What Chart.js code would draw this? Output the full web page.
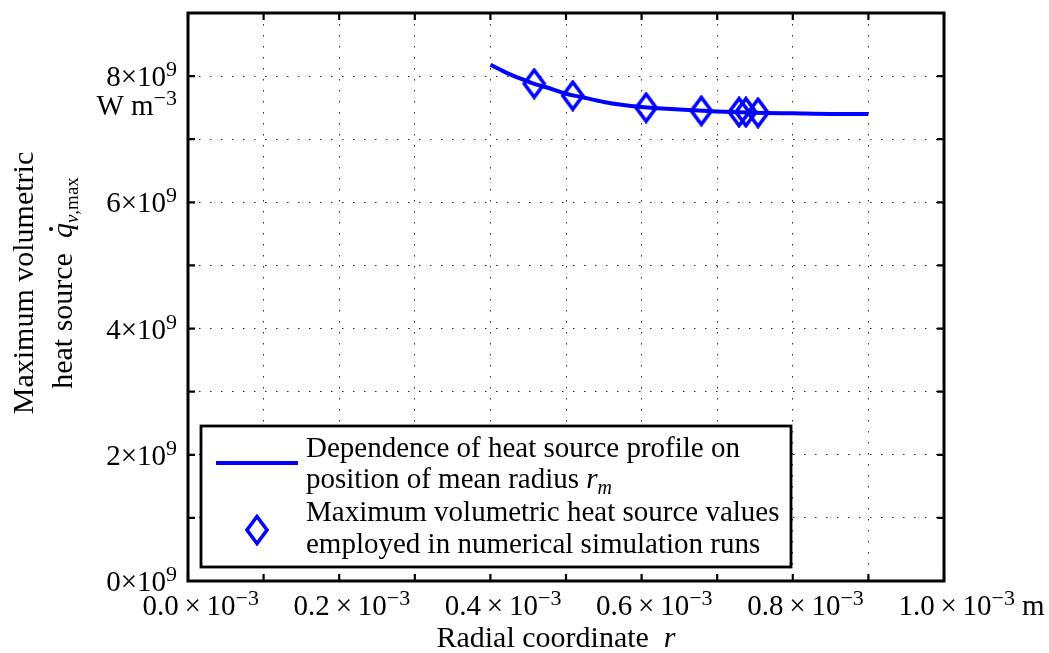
<!DOCTYPE html>
<html>
<head>
<meta charset="utf-8">
<script src="https://cdn.jsdelivr.net/npm/chart.js@4.4.1/dist/chart.umd.min.js"></script>
<style>
  html, body { margin: 0; padding: 0; background: #fff; }
  #wrap { width: 1049px; height: 653px; }
</style>
</head>
<body>
<div id="wrap"><canvas id="heatChart"></canvas></div>
<script>
// r in units of 1e-3 m, q in units of 1e9 W m^-3
const curveR = [0.40, 0.42, 0.44, 0.46, 0.48, 0.50, 0.52, 0.55, 0.60, 0.65, 0.70, 0.75, 0.80, 0.85, 0.90];
const curveQ = [8.18, 8.06, 7.96, 7.87, 7.80, 7.72, 7.67, 7.59, 7.51, 7.47, 7.44, 7.42, 7.41, 7.40, 7.40];
const runR = [0.458, 0.509, 0.606, 0.679, 0.729, 0.738, 0.754];
const runQ = [7.88, 7.69, 7.50, 7.45, 7.43, 7.43, 7.42];
const xTickValues = [0, 0.2, 0.4, 0.6, 0.8, 1.0];
const xTickLabels = ['0.0', '0.2', '0.4', '0.6', '0.8', '1.0'];
const xTickExp = '−3';
const yTickValues = [0, 2, 4, 6, 8];
const yTickLabels = ['0', '2', '4', '6', '8'];
const yTickExp = '9';

const serif = '"Liberation Serif", "Times New Roman", serif';
const blue = '#0000ff';

// diamond marker, a bit taller than wide like the original
const diamond = document.createElement('canvas');
diamond.width = 26; diamond.height = 32;
(function () {
    const c = diamond.getContext('2d');
    c.strokeStyle = blue; c.lineWidth = 3.6; c.lineJoin = 'miter';
    c.beginPath();
    c.moveTo(13, 2.5); c.lineTo(23, 16); c.lineTo(13, 29.5); c.lineTo(3, 16); c.closePath();
    c.stroke();
})();

// draw a list of text runs one after the other
function drawRuns(ctx, x, y, runs) {
    let cx = x;
    runs.forEach(r => {
        ctx.font = r.font;
        ctx.fillText(r.t, cx, y + (r.dy || 0));
        cx += ctx.measureText(r.t).width;
    });
    return cx;
}
function runsWidth(ctx, runs) {
    let w = 0;
    runs.forEach(r => { ctx.font = r.font; w += ctx.measureText(r.t).width; });
    return w;
}

const tickFont = '29px ' + serif;
const supFont = '22px ' + serif;
const times = '\u2009×\u2009';

const frame = {
    id: 'frame',
    afterDraw(chart) {
        const { ctx, chartArea: a, scales: { x, y } } = chart;
        ctx.save();
        ctx.strokeStyle = '#000';
        ctx.lineWidth = 2.2;
        ctx.beginPath();
        x.ticks.forEach(t => {
            const px = x.getPixelForValue(t.value);
            ctx.moveTo(px, a.bottom); ctx.lineTo(px, a.bottom - 7);
            ctx.moveTo(px, a.top); ctx.lineTo(px, a.top + 7);
        });
        y.ticks.forEach(t => {
            const py = y.getPixelForValue(t.value);
            ctx.moveTo(a.left, py); ctx.lineTo(a.left + 7, py);
            ctx.moveTo(a.right, py); ctx.lineTo(a.right - 7, py);
        });
        ctx.stroke();
        ctx.lineWidth = 3;
        ctx.strokeRect(a.left, a.top, a.right - a.left, a.bottom - a.top);

        ctx.fillStyle = '#000';
        ctx.textBaseline = 'alphabetic';
        ctx.textAlign = 'left';

        // x tick labels: base centred on the tick, exponent appended
        let lastEnd = 0;
        xTickValues.forEach((v, i) => {
            const base = xTickLabels[i] + times + '10';
            ctx.font = tickFont;
            const bw = ctx.measureText(base).width;
            const px = x.getPixelForValue(v) + 1;
            lastEnd = drawRuns(ctx, px - bw / 2, a.bottom + 34,
                [{ t: base, font: tickFont }, { t: xTickExp, font: supFont, dy: -10 }]);
        });
        ctx.font = tickFont;
        ctx.fillText('m', lastEnd + 7, a.bottom + 34);

        // y tick labels, right aligned
        yTickValues.forEach((v, i) => {
            const runs = [{ t: yTickLabels[i] + '×10', font: tickFont },
                          { t: yTickExp, font: supFont, dy: -10 }];
            const w = runsWidth(ctx, runs);
            drawRuns(ctx, a.left - 11 - w, y.getPixelForValue(v) + 10, runs);
        });
        const unit = [{ t: 'W m', font: tickFont }, { t: '−3', font: supFont, dy: -10 }];
        drawRuns(ctx, a.left - 11 - runsWidth(ctx, unit), y.getPixelForValue(8) + 39, unit);

        // x title
        const big = '30px ' + serif;
        const it = 'italic 30px ' + serif;
        const xt = [{ t: 'Radial coordinate  ', font: big }, { t: 'r', font: it }];
        drawRuns(ctx, 556 - runsWidth(ctx, xt) / 2, 647, xt);

        // y title, rotated
        ctx.save();
        ctx.translate(0, 283);
        ctx.rotate(-Math.PI / 2);
        ctx.font = big;
        ctx.textAlign = 'center';
        ctx.fillText('Maximum volumetric', 0, 33);
        ctx.textAlign = 'left';
        const yt = [{ t: 'heat source  ', font: big }, { t: 'q', font: it },
                    { t: 'v', font: 'italic 19px ' + serif, dy: 6 }, { t: ',max', font: '19px ' + serif, dy: 6 }];
        const x0 = -runsWidth(ctx, yt) / 2;
        ctx.font = big;
        const qx = x0 + ctx.measureText('heat source  ').width;
        drawRuns(ctx, x0, 72, yt);
        ctx.beginPath();
        ctx.arc(qx + 9, 72 - 21, 2, 0, Math.PI * 2);
        ctx.fill();
        ctx.restore();

        // legend
        const lx = a.left + 13, ly = a.top + 413, lw = 590, lh = 141;
        ctx.fillStyle = '#fff';
        ctx.fillRect(lx, ly, lw, lh);
        ctx.strokeStyle = '#000';
        ctx.lineWidth = 2.8;
        ctx.strokeRect(lx, ly, lw, lh);
        ctx.strokeStyle = blue;
        ctx.lineWidth = 4;
        ctx.beginPath();
        ctx.moveTo(lx + 15, ly + 37); ctx.lineTo(lx + 97, ly + 37);
        ctx.stroke();
        ctx.drawImage(diamond, lx + 56 - 13, ly + 104 - 16);
        ctx.fillStyle = '#000';
        const tx = lx + 105;
        const ds = chart.data.datasets;
        const lf = '29px ' + serif;
        ctx.font = lf;
        ctx.fillText(ds[1].label[0], tx, ly + 31);
        drawRuns(ctx, tx, ly + 62, [{ t: ds[1].label[1], font: lf },
            { t: 'r', font: 'italic 29px ' + serif }, { t: 'm', font: 'italic 20px ' + serif, dy: 6 }]);
        ctx.font = lf;
        ctx.fillText(ds[0].label[0], tx, ly + 95);
        ctx.fillText(ds[0].label[1], tx, ly + 127);
        ctx.restore();
    }
};

const ctx = document.getElementById('heatChart').getContext('2d');
new Chart(ctx, {
    type: 'scatter',
    data: {
        datasets: [{
            label: ['Maximum volumetric heat source values', 'employed in numerical simulation runs'],
            data: runR.map((r, i) => ({ x: r, y: runQ[i] })),
            showLine: false,
            pointStyle: diamond,
            pointRadius: 12,
            order: 0
        }, {
            label: ['Dependence of heat source profile on', 'position of mean radius '],
            data: curveR.map((r, i) => ({ x: r, y: curveQ[i] })),
            showLine: true,
            borderColor: blue,
            borderWidth: 4,
            cubicInterpolationMode: 'monotone',
            pointRadius: 0,
            order: 1
        }]
    },
    options: {
        responsive: true,
        maintainAspectRatio: false,
        animation: false,
        layout: { padding: { left: 0, top: 13, right: 105, bottom: 0 } },
        plugins: {
            legend: { display: false },
            tooltip: { enabled: false }
        },
        scales: {
            x: {
                type: 'linear',
                min: 0,
                max: 1.0,
                afterFit: s => { s.height = 72; },
                ticks: { stepSize: 0.1, display: false },
                grid: {
                    color: 'rgba(0,0,0,0.85)',
                    lineWidth: 1,
                    drawTicks: false
                },
                border: { display: false, dash: [1.5, 9.5] }
            },
            y: {
                type: 'linear',
                min: 0,
                max: 9,
                afterFit: s => { s.width = 188; },
                ticks: { stepSize: 1, display: false },
                grid: {
                    color: 'rgba(0,0,0,0.85)',
                    lineWidth: 1,
                    drawTicks: false
                },
                border: { display: false, dash: [1.5, 9.5] }
            }
        }
    },
    plugins: [frame]
});
</script>
</body>
</html>
